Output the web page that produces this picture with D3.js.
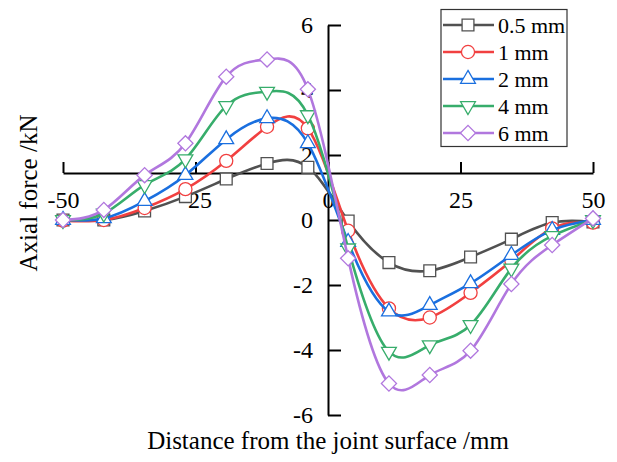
<!DOCTYPE html>
<html>
<head>
<meta charset="utf-8">
<script src="https://cdn.jsdelivr.net/npm/d3@7"></script>
<style>
  html, body { margin: 0; padding: 0; background: #fff; }
  svg { display: block; }
  text { font-family: "Liberation Serif", "Times New Roman", serif; fill: #000; }
</style>
</head>
<body>
<svg id="chart" width="617" height="462"></svg>
<script>
// ---------------- data ----------------
const distances = [-50, -42.3, -34.6, -26.9, -19.2, -11.5, -3.8, 3.8, 11.5, 19.2, 26.9, 34.6, 42.3, 50];
const seriesNames = ["0.5 mm", "1 mm", "2 mm", "4 mm", "6 mm"];
const force05 = [0, 0, 0.28, 0.72, 1.26, 1.74, 1.62, -0.03, -1.31, -1.56, -1.14, -0.59, -0.08, -0.06];
const force1  = [-0.02, 0, 0.37, 0.95, 1.82, 2.87, 2.82, -0.33, -2.72, -3.0, -2.24, -1.25, -0.26, -0.08];
const force2  = [0, 0.05, 0.58, 1.38, 2.48, 3.13, 2.36, -0.68, -2.82, -2.62, -1.95, -1.08, -0.31, 0];
const force4  = [0, 0.2, 1.08, 1.87, 3.51, 3.95, 3.23, -0.87, -4.05, -3.85, -3.23, -1.49, -0.49, 0];
const force6  = [0, 0.31, 1.38, 2.36, 4.41, 4.94, 4.02, -1.18, -5.03, -4.77, -4.02, -1.97, -0.77, 0.05];
const xTicks = [-50, -25, 0, 25, 50];
const yTicks = [-6, -4, -2, 0, 2, 4, 6];
const colors = ["#515151", "#F14040", "#1A6FDF", "#37AD6B", "#B177DE"];
const markers = ["square", "circle", "triangleUp", "triangleDown", "diamond"];
const xTitle = "Distance from the joint surface /mm";
const yTitle = "Axial force /kN";

const allSeries = [force05, force1, force2, force4, force6];

// ---------------- layout ----------------
const svg = d3.select("#chart");
const x = d3.scaleLinear().domain([-50, 50]).range([63, 593]);
const y = d3.scaleLinear().domain([-6, 6]).range([415, 25]);
const xAxisY = 173; // pixel where the horizontal axis is drawn
const fmt = d => d < 0 ? "-" + Math.abs(d) : String(d);

// y axis (at x = 0)
const yAxis = d3.axisLeft(y).tickValues(yTicks).tickFormat(fmt)
  .tickSizeInner(-13).tickSizeOuter(0).tickPadding(15);
const gy = svg.append("g").attr("transform", `translate(${x(0)},0)`).call(yAxis);
gy.select(".domain").attr("stroke", "#000").attr("stroke-width", 2);
gy.selectAll(".tick line").attr("stroke", "#000").attr("stroke-width", 2);
gy.selectAll(".tick text").attr("font-size", 24).attr("font-family", "Liberation Serif");

// x axis
const xAxis = d3.axisBottom(x).tickValues(xTicks).tickFormat(fmt)
  .tickSizeInner(-11).tickSizeOuter(0).tickPadding(18);
const gx = svg.append("g").attr("transform", `translate(0,${xAxisY})`).call(xAxis);
gx.select(".domain").attr("stroke", "#000").attr("stroke-width", 2);
gx.selectAll(".tick line").attr("stroke", "#000").attr("stroke-width", 2);
gx.selectAll(".tick text").attr("font-size", 24).attr("font-family", "Liberation Serif");

// axis titles
svg.append("text").attr("x", x(0)).attr("y", 440).attr("dy", "0.35em").attr("text-anchor", "middle")
  .attr("font-size", 25).text(xTitle);
svg.append("text").attr("transform", "translate(28,193) rotate(-90)").attr("dy", "0.35em")
  .attr("text-anchor", "middle").attr("font-size", 25).text(yTitle);

// ---------------- markers ----------------
function markerPath(kind) {
  switch (kind) {
    case "square": return d3.symbol().type(d3.symbolSquare).size(140)();
    case "circle": return d3.symbol().type(d3.symbolCircle).size(135)();
    case "triangleUp": return d3.symbol().type(d3.symbolTriangle).size(95)();
    case "triangleDown": return d3.symbol().type(d3.symbolTriangle).size(95)();
    case "diamond": return d3.symbol().type(d3.symbolSquare).size(115)();
  }
}
function markerRotate(kind) {
  if (kind === "triangleDown") return 180;
  if (kind === "diamond") return 45;
  return 0;
}

const line = d3.line().x(d => x(d[0])).y(d => y(d[1])).curve(d3.curveNatural);

allSeries.forEach((vals, i) => {
  const pts = distances.map((d, j) => [d, vals[j]]);
  const g = svg.append("g");
  g.append("path").attr("d", line(pts)).attr("fill", "none")
    .attr("stroke", colors[i]).attr("stroke-width", 2.6);
  g.selectAll("path.m").data(pts).enter().append("path").attr("class", "m")
    .attr("d", markerPath(markers[i]))
    .attr("transform", d => `translate(${x(d[0])},${y(d[1])}) rotate(${markerRotate(markers[i])})`)
    .attr("fill", "#fff").attr("stroke", colors[i]).attr("stroke-width", 1.3);
});

// ---------------- legend ----------------
const lg = svg.append("g");
lg.append("rect").attr("x", 441).attr("y", 9.5).attr("width", 126).attr("height", 137)
  .attr("fill", "#fff").attr("stroke", "#333").attr("stroke-width", 1.2);
seriesNames.forEach((name, i) => {
  const cy = 25 + i * 27;
  lg.append("line").attr("x1", 443).attr("x2", 494).attr("y1", cy).attr("y2", cy)
    .attr("stroke", colors[i]).attr("stroke-width", 2.6);
  lg.append("path").attr("d", markerPath(markers[i]))
    .attr("transform", `translate(468,${cy}) rotate(${markerRotate(markers[i])})`)
    .attr("fill", "#fff").attr("stroke", colors[i]).attr("stroke-width", 1.3);
  lg.append("text").attr("x", 498).attr("y", cy).attr("dy", "0.35em")
    .attr("font-size", 22).text(name);
});
</script>
</body>
</html>
